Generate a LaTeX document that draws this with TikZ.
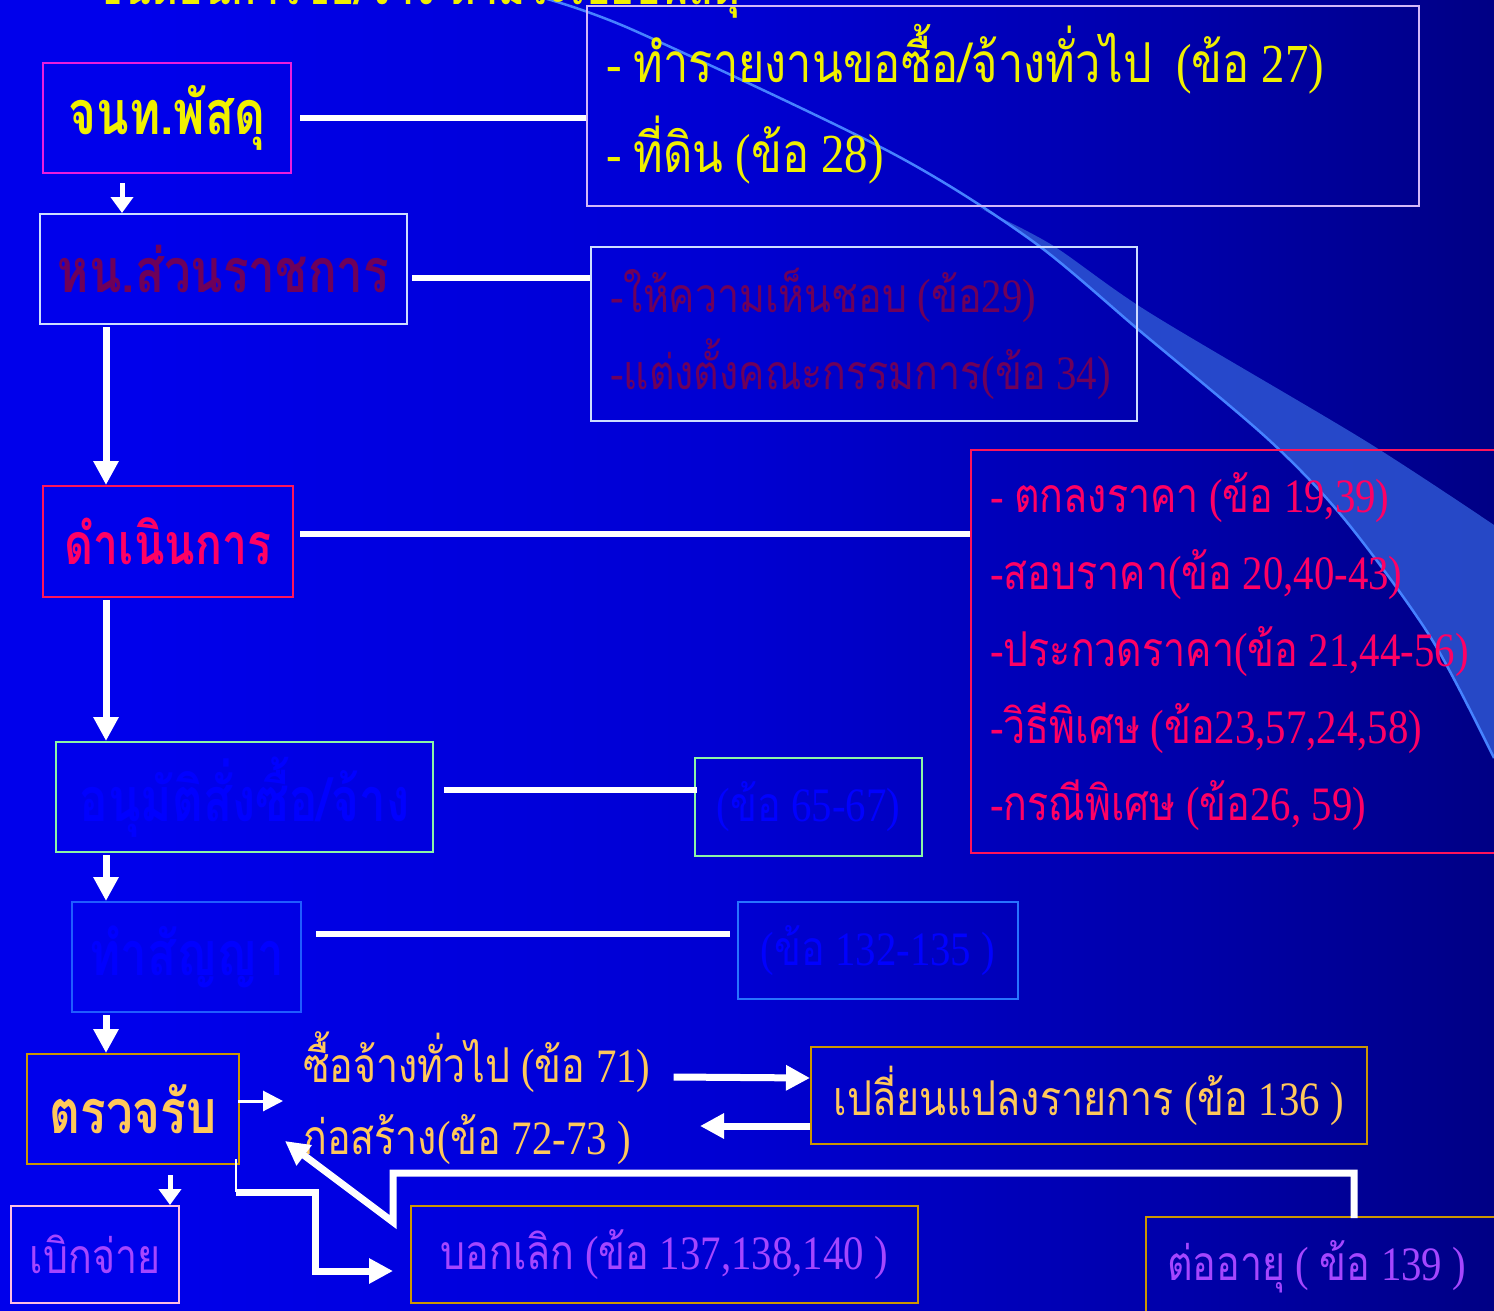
\documentclass[tikz,border=0pt]{standalone}
\usepackage{fontspec}
\usetikzlibrary{arrows.meta,calc}
\newfontfamily\thai[Script=Thai,FakeStretch=0.82]{Loma}
\newfontfamily\thaiB[Script=Thai,FakeStretch=0.78]{Loma}
\newfontfamily\latf[FakeStretch=0.85]{Liberation Serif}
\newcommand\dg[1]{{\latf\spaceskip=0.22em plus 0.05em\relax #1}}
\pgfdeclarehorizontalshading{bgsh}{100bp}{rgb(0bp)=(0,0,0.94); rgb(30bp)=(0,0,0.92); rgb(50bp)=(0,0,0.82); rgb(65bp)=(0,0,0.66); rgb(80bp)=(0,0,0.45); rgb(100bp)=(0,0,0.2)}
\definecolor{bandC}{RGB}{45,85,210}
\definecolor{swl}{RGB}{70,130,255}
\definecolor{ylw}{RGB}{240,240,0}
\definecolor{magB}{RGB}{235,30,220}
\definecolor{dpur}{RGB}{110,0,90}
\definecolor{ltB}{RGB}{205,222,255}
\definecolor{pinkR}{RGB}{255,0,100}
\definecolor{pinkB}{RGB}{255,20,90}
\definecolor{grnB}{RGB}{140,245,165}
\definecolor{bluB}{RGB}{40,115,255}
\definecolor{fblu}{RGB}{0,0,255}
\definecolor{gldB}{RGB}{205,150,0}
\definecolor{gldT}{RGB}{255,200,90}
\definecolor{purT}{RGB}{165,70,255}
\definecolor{pnkB}{RGB}{255,190,225}
\begin{document}
\begin{tikzpicture}[x=1pt,y=-1pt,
  box/.style={draw, line width=2pt, inner sep=0pt, anchor=north west},
  ltxt/.style={anchor=west, align=left, inner sep=0pt},
  conn/.style={draw=white, line width=6pt},
  darr/.style={draw=white, line width=7pt, -{Triangle[width=24pt,length=24pt]}},
  sarr/.style={draw=white, line width=5pt, -{Triangle[width=22pt,length=16pt]}},
  bent/.style={draw=white, line width=7pt, line join=miter, -{Triangle[width=24pt,length=24pt]}},
  big/.style={font=\thaiB\bfseries\fontsize{61}{70}\selectfont},
  reg/.style={font=\thai\fontsize{48}{77}\selectfont},
  regA/.style={font=\thai\fontsize{55}{90}\selectfont}
]
\useasboundingbox (0,0) rectangle (1494,1311);
\shade[shading=bgsh] (0,0) rectangle (1494,1311);
% swoosh
\fill[bandC, opacity=0.85] plot[smooth] coordinates {(980,208) (1031,240) (1140,331) (1269,440) (1346,521) (1431,638) (1494,758)}
  -- (1494,525) -- plot[smooth] coordinates {(1494,525) (1364,440) (1150,313) (1052,245) (980,208)} -- cycle;
\draw[swl, line width=2.5pt] plot[smooth] coordinates {(540,-3) (633,30) (890,152) (1031,240) (1140,331) (1269,440) (1346,521) (1431,638) (1494,758)};
% title (cut off at top)
\node[anchor=base west, font=\thaiB\bfseries\fontsize{64}{70}\selectfont, text=ylw, inner sep=0pt] (title) at (95,5) {\resizebox{645pt}{!}{ขั้นตอนการซื้อ/จ้าง ตามระเบียบพัสดุ}};
% left column
\node[box, draw=magB, minimum width=248pt, minimum height=110pt, big, text=ylw] (jnt) at (42,62) {จนท.พัสดุ};
\node[box, draw=ltB, minimum width=367pt, minimum height=110pt, big, text=dpur] (hn) at (39,213) {หน.ส่วนราชการ};
\node[box, draw=pinkB, minimum width=250pt, minimum height=111pt, big, text=pinkR] (dn) at (42,485) {\resizebox{206pt}{!}{ดำเนินการ}};
\node[box, draw=grnB, minimum width=377pt, minimum height=110pt, big, text=fblu] (an) at (55,741) {อนุมัติสั่งซื้อ/จ้าง};
\node[box, draw=bluB!80!blue, minimum width=229pt, minimum height=110pt, big, text=fblu] (ts) at (71,901) {ทำสัญญา};
\node[box, draw=gldB, minimum width=212pt, minimum height=110pt, big, text=gldT] (tr) at (26,1053) {ตรวจรับ};
\node[box, draw=pnkB, minimum width=168pt, minimum height=97pt, reg, text=purT] (bk) at (10,1205) {เบิกจ่าย};
% right boxes
\node[box, draw=ltB!80!magB, minimum width=832pt, minimum height=200pt] (A) at (586,5) {};
\node[ltxt, regA, text=ylw] (At) at ($(A.west)+(20,-2)$)
  {\dg{- }ทำรายงานขอซื้อ/จ้างทั่วไป\dg{~~(}ข้อ\dg{ 27)}\\\dg{- }ที่ดิน\dg{ (}ข้อ\dg{ 28)}};
\node[box, draw=ltB, minimum width=546pt, minimum height=174pt] (B) at (590,246) {};
\node[ltxt, reg, text=dpur] (Bt) at ($(B.west)+(20,0)$)
  {\dg{-}ให้ความเห็นชอบ\dg{ (}ข้อ\dg{29)}\\\dg{-}แต่งตั้งคณะกรรมการ\dg{(}ข้อ\dg{ 34)}};
\node[box, draw=pinkB, minimum width=560pt, minimum height=403pt] (C) at (970,449) {};
\node[ltxt, reg, text=pinkR] (Ct) at ($(C.west)+(20,0)$)
  {\dg{- }ตกลงราคา\dg{ (}ข้อ\dg{ 19,39)}\\\dg{-}สอบราคา\dg{(}ข้อ\dg{ 20,40-43)}\\\dg{-}ประกวดราคา\dg{(}ข้อ\dg{ 21,44-56)}\\\dg{-}วิธีพิเศษ\dg{ (}ข้อ\dg{23,57,24,58)}\\\dg{-}กรณีพิเศษ\dg{ (}ข้อ\dg{26, 59)}};
\node[box, draw=grnB, minimum width=227pt, minimum height=98pt, reg, text=fblu] (D) at (694,757) {\dg{(}ข้อ\dg{ 65-67)}};
\node[box, draw=bluB, minimum width=280pt, minimum height=97pt, reg, text=fblu] (E) at (737,901) {\dg{(}ข้อ\dg{ 132-135 )}};
\node[box, draw=gldB, minimum width=556pt, minimum height=97pt, reg, text=gldT] (F) at (810,1046) {เปลี่ยนแปลงรายการ\dg{ (}ข้อ\dg{ 136 )}};
\node[box, draw=gldB, minimum width=507pt, minimum height=97pt, reg, text=purT] (G) at (410,1205) {บอกเลิก\dg{ (}ข้อ\dg{ 137,138,140 )}};
\node[box, draw=gldB, minimum width=380pt, minimum height=100pt] (H) at (1145,1216) {};
\node[ltxt, reg, text=purT] (Ht) at ($(H.west)+(22,0)$) {ต่ออายุ\dg{ ( }ข้อ\dg{ 139 )}};
\node[anchor=west, reg, text=gldT, inner sep=0pt] (t71) at (303,1062) {ซื้อจ้างทั่วไป\dg{ (}ข้อ\dg{ 71)}};
\node[anchor=west, reg, text=gldT, inner sep=0pt] (t72) at (303,1140) {ก่อสร้าง\dg{(}ข้อ\dg{ 72-73 )}};
% horizontal connectors
\draw[conn] ($(jnt.east)+(8,0)$) -- (jnt.east -| A.west);
\draw[conn] ($(hn.east)+(4,9)$) -- ($(hn.east -| B.west)+(0,9)$);
\draw[conn] ($(dn.east)+(6,-7.5)$) -- ($(dn.east -| C.west)+(0,-7.5)$);
\draw[conn] ($(an.east)+(10,-7)$) -- ($(an.east -| D.west)+(3,-7)$);
\draw[conn] ($(ts.east)+(14,-23)$) -- ($(ts.east -| E.west)+(-7,-23)$);
% vertical arrows
\draw[sarr] ($(jnt.south west)+(80,9)$) -- ($(jnt.south west |- hn.north)+(80,0)$);
\draw[darr] ($(hn.south west)+(67,2)$) -- ($(hn.south west |- dn.north)+(67,0)$);
\draw[darr] ($(dn.south west)+(64,2)$) -- ($(dn.south west |- an.north)+(64,0)$);
\draw[darr] ($(an.south west)+(51,2)$) -- ($(an.south west |- ts.north)+(51,0)$);
\draw[darr] ($(ts.south west)+(35,2)$) -- ($(ts.south west |- tr.north)+(35,0)$);
\draw[sarr] ($(tr.south west)+(144,10)$) -- ($(tr.south west |- bk.north)+(144,0)$);
% arrows around ตรวจรับ
\draw[draw=white, line width=3pt, -{Triangle[width=20pt,length=20pt]}] ($(tr.east)+(-2,-8)$) -- ($(tr.east -| t71.west)+(-20,-8)$);
\draw[draw=white, line width=2pt] ($(tr.south east)+(-4,-6)$) -- ($(tr.south east)+(-4,27)$);
\draw[bent] ($(tr.south east)+(-4,27)$) -| ($(G.west)+(-95,16.5)$) -- ($(G.west)+(-17,16.5)$);
\draw[bent] ($(H.north west)+(209,2)$) |- ($(G.north west)+(-17,-32)$) -- ($(G.north west)+(-17,17)$) -- ($(t72.west)+(-18,1)$);
\draw[bent] ($(t71.east)+(23,15)$) -- ($(F.west)+(0,-17.5)$);
\draw[bent] ($(F.west)+(0,30.5)$) -- ($(F.west)+(-110,30.5)$);
\end{tikzpicture}
\end{document}
